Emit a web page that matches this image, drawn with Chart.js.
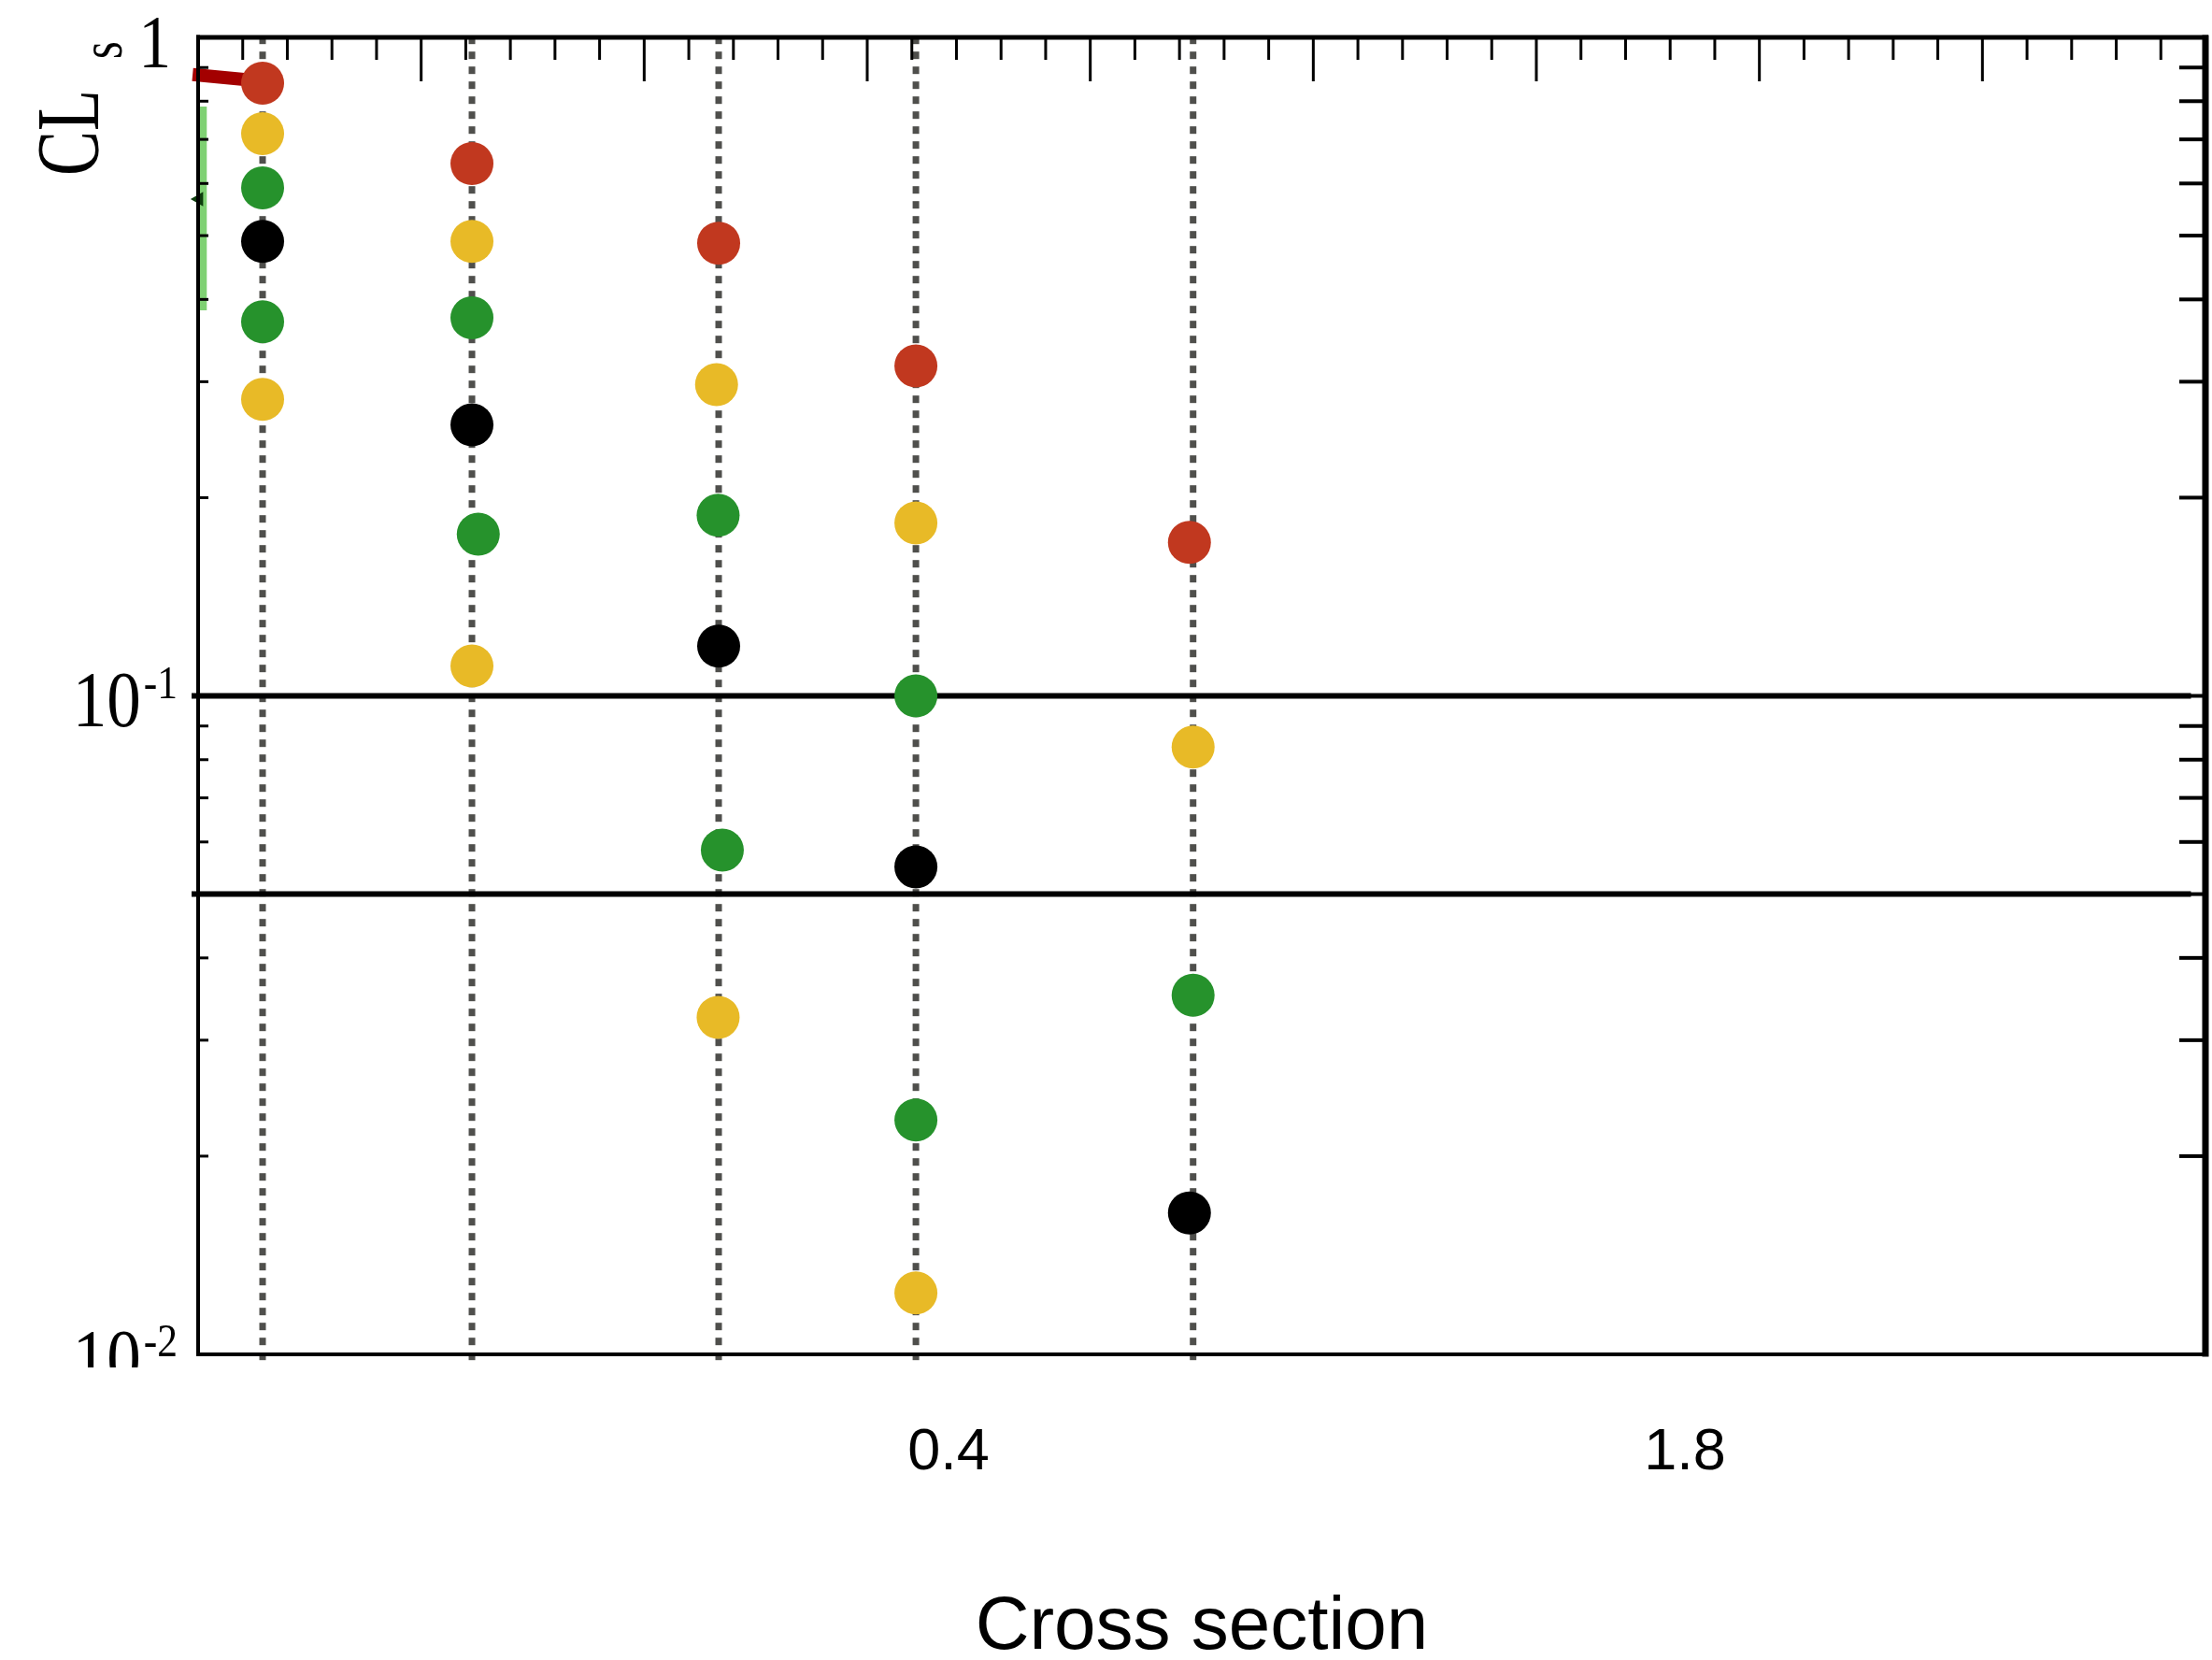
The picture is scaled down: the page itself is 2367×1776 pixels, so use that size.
<!DOCTYPE html>
<html>
<head>
<meta charset="utf-8">
<script src="https://cdn.jsdelivr.net/npm/chart.js@4.4.1/dist/chart.umd.min.js"></script>
<style>
  html, body { margin: 0; padding: 0; background: #fff; overflow: hidden; }
  #wrap { width: 2367px; height: 1776px; position: relative; }
  canvas { display: block; }
</style>
</head>
<body>
<div id="wrap"><canvas id="myChart"></canvas></div>
<script>
// axis labels
const xTickValues = [0.4, 1.8];
const xTickLabels = ['0.4', '1.8'];
const yTickValues = [1, 0.1, 0.01];
const yTickBase = ['1', '10', '10'];
const yTickExp = ['', '-1', '-2'];

// CLs per mass point
const columnX = [-0.904, -0.506, -0.037, 0.338, 0.865];
const observedX = [-0.904, -0.506, -0.037, 0.338, 0.858];
const observedCLs = [0.852, 0.643, 0.487, 0.317, 0.171];
const plus2X = [-0.904, -0.506, -0.041, 0.338, 0.865];
const plus2CLs = [0.714, 0.490, 0.297, 0.183, 0.0836];
const plus1X = [-0.904, -0.506, -0.038, 0.338, 0.865];
const plus1CLs = [0.591, 0.375, 0.188, 0.100, 0.0351];
const expectedX = [-0.904, -0.506, -0.037, 0.338, 0.858];
const expectedCLs = [0.490, 0.258, 0.119, 0.055, 0.0164];
const minus1X = [-0.904, -0.494, -0.030, 0.338];
const minus1CLs = [0.370, 0.176, 0.0583, 0.0227];
const minus2X = [-0.904, -0.506, -0.038, 0.338];
const minus2CLs = [0.282, 0.111, 0.0325, 0.0124];

// 90% / 95% CL lines
const limitLevels = [0.1, 0.05];
const limitSpanX = [-1.039, 2.762];
const columnSpanY = [0.0098, 1];

// leftovers of the old curves at the left edge
const traceX = [-1.037, -0.93];
const traceY = [0.878, 0.862];
const bandX = [-1.019, -1.019];
const bandY = [0.785, 0.385];
const markX = [-1.025];
const markY = [0.568];

const RED = '#c1381f';
const YELLOW = '#e8ba27';
const GREEN = '#26922c';
const BLACK = '#000000';

function pts(xs, ys) {
  return ys.map((y, i) => ({x: xs[i], y: y}));
}

function dots(label, xs, ys, color) {
  return {
    label: label,
    data: pts(xs, ys),
    backgroundColor: color,
    borderWidth: 0,
    pointRadius: 23,
    pointHoverRadius: 23,
    showLine: false,
    order: 0
  };
}

function segment(xs, ys, color, width, order, dash) {
  return {
    data: pts(xs, ys),
    borderColor: color,
    borderWidth: width,
    borderDash: dash || [],
    borderCapStyle: 'butt',
    pointRadius: 0,
    showLine: true,
    clip: false,
    order: order
  };
}

const datasets = [
  dots('observed', observedX, observedCLs, RED),
  dots('+2 sigma', plus2X, plus2CLs, YELLOW),
  dots('+1 sigma', plus1X, plus1CLs, GREEN),
  dots('expected', expectedX, expectedCLs, BLACK),
  dots('-1 sigma', minus1X, minus1CLs, GREEN),
  dots('-2 sigma', minus2X, minus2CLs, YELLOW)
];
limitLevels.forEach(l => {
  datasets.push(segment(limitSpanX, [l, l], '#000', 6, 1));
});
columnX.forEach(x => {
  datasets.push(segment([x, x], columnSpanY, '#4f4f4c', 7, 2, [8, 8]));
});
datasets.push(segment(traceX, traceY, '#a30000', 14, 3));
datasets.push(segment(bandX, bandY, '#7fd173', 10, 4));
datasets.push({
  data: pts(markX, markY),
  backgroundColor: '#0d3d0d',
  borderWidth: 0,
  pointStyle: 'triangle',
  rotation: -90,
  pointRadius: 9,
  showLine: false,
  clip: false,
  order: 3
});

function scaledText(ctx, text, x, y, font, sx, align) {
  ctx.save();
  ctx.font = font;
  ctx.textAlign = align;
  ctx.textBaseline = 'alphabetic';
  ctx.translate(x, y);
  ctx.scale(sx, 1);
  ctx.fillText(text, 0, 0);
  const w = ctx.measureText(text).width * sx;
  ctx.restore();
  return w;
}

function noSidePadding(s) {
  s.paddingLeft = 0;
  s.paddingRight = 0;
}

const framePlugin = {
  id: 'frame',
  afterDatasetsDraw(chart) {
    const {ctx, chartArea: a, scales} = chart;
    const y = scales.y;
    const top = scales.xTop;
    ctx.save();
    ctx.fillStyle = '#000';
    ctx.strokeStyle = '#000';
    ctx.lineCap = 'butt';

    // top axis ticks pointing inwards
    ctx.lineWidth = 3;
    for (let i = 0; i <= 45; i++) {
      const px = top.getPixelForValue(i * 0.2);
      const len = i % 5 === 0 ? 47 : 24;
      ctx.beginPath();
      ctx.moveTo(px, a.top);
      ctx.lineTo(px, a.top + len);
      ctx.stroke();
    }

    // log ticks on left and right
    [0.01, 0.1].forEach(d => {
      for (let k = 1; k <= 9; k++) {
        const py = y.getPixelForValue(d * k);
        ctx.lineWidth = 3;
        ctx.beginPath();
        ctx.moveTo(a.left, py);
        ctx.lineTo(a.left + 11, py);
        ctx.stroke();
        ctx.lineWidth = 4;
        ctx.beginPath();
        ctx.moveTo(a.right - 28, py);
        ctx.lineTo(a.right, py);
        ctx.stroke();
      }
    });

    // frame
    const w = a.right - a.left;
    const h = a.bottom - a.top;
    ctx.fillRect(a.left - 2, a.top - 2.5, w + 5, 5);
    ctx.fillRect(a.left - 2, a.top - 2.5, 4, h + 4.5);
    ctx.fillRect(a.right - 3.5, a.top - 2.5, 7, h + 5);
    ctx.fillRect(a.left - 2, a.bottom - 2, w + 5, 4);
    ctx.restore();
  },
  afterDraw(chart) {
    const {ctx, chartArea: a, scales} = chart;
    const y = scales.y;
    ctx.save();
    ctx.fillStyle = '#000';

    // y tick labels, clipped just under the frame like the original
    ctx.save();
    ctx.beginPath();
    ctx.rect(0, 0, a.left - 3, a.bottom + 14);
    ctx.clip();
    yTickValues.forEach((v, i) => {
      const base = y.getPixelForValue(v) + 32;
      if (yTickExp[i]) {
        const ew = scaledText(ctx, yTickExp[i], 190, base - 30, '50px "Liberation Serif"', 0.87, 'right');
        scaledText(ctx, yTickBase[i], 190 - ew - 3, base, '84px "Liberation Serif"', 0.87, 'right');
      } else {
        scaledText(ctx, yTickBase[i], 183, base, '80px "Liberation Serif"', 0.87, 'right');
      }
    });
    ctx.restore();

    // y title CL_s
    ctx.save();
    ctx.translate(105, 188);
    ctx.rotate(-Math.PI / 2);
    ctx.scale(0.75, 1);
    ctx.font = '96px "Liberation Serif"';
    ctx.textBaseline = 'alphabetic';
    ctx.fillText('CL', 0, 0);
    ctx.restore();
    ctx.save();
    ctx.translate(130, 63);
    ctx.rotate(-Math.PI / 2);
    ctx.scale(0.75, 1);
    ctx.font = '64px "Liberation Serif"';
    ctx.fillText('s', 0, 0);
    ctx.restore();

    ctx.restore();
  }
};

const config = {
  type: 'scatter',
  data: {datasets: datasets},
  options: {
    responsive: true,
    maintainAspectRatio: false,
    animation: false,
    events: [],
    layout: {autoPadding: false, padding: {left: 0, right: 7, top: 0, bottom: 0}},
    plugins: {
      legend: {display: false},
      tooltip: {enabled: false},
      title: {display: false}
    },
    scales: {
      x: {
        type: 'linear',
        position: 'bottom',
        min: -1.0266,
        max: 2.7896,
        afterBuildTicks: s => { s.ticks = xTickValues.map(v => ({value: v})); },
        afterFit: s => { s.height = 327; noSidePadding(s); },
        grid: {display: false, drawTicks: false},
        border: {display: false},
        ticks: {
          padding: 68,
          color: '#000',
          maxRotation: 0,
          autoSkip: false,
          font: {family: '"Liberation Sans", Arial, sans-serif', size: 63},
          callback: (v, i) => xTickLabels[i]
        },
        title: {
          display: true,
          text: 'Cross section',
          color: '#000',
          padding: {top: 0, bottom: 0},
          font: {family: '"Liberation Sans", Arial, sans-serif', size: 80, lineHeight: 0.85}
        }
      },
      xTop: {
        axis: 'x',
        type: 'linear',
        position: 'top',
        min: 0,
        max: 9,
        afterFit: s => { s.height = 40; noSidePadding(s); },
        grid: {display: false, drawTicks: false},
        border: {display: false},
        ticks: {display: false}
      },
      y: {
        type: 'logarithmic',
        position: 'left',
        min: 0.01,
        max: 1,
        afterFit: s => { s.width = 212; },
        grid: {display: false, drawTicks: false},
        border: {display: false},
        ticks: {display: false}
      }
    }
  },
  plugins: [framePlugin]
};

const myChart = new Chart(document.getElementById('myChart'), config);
</script>
</body>
</html>
